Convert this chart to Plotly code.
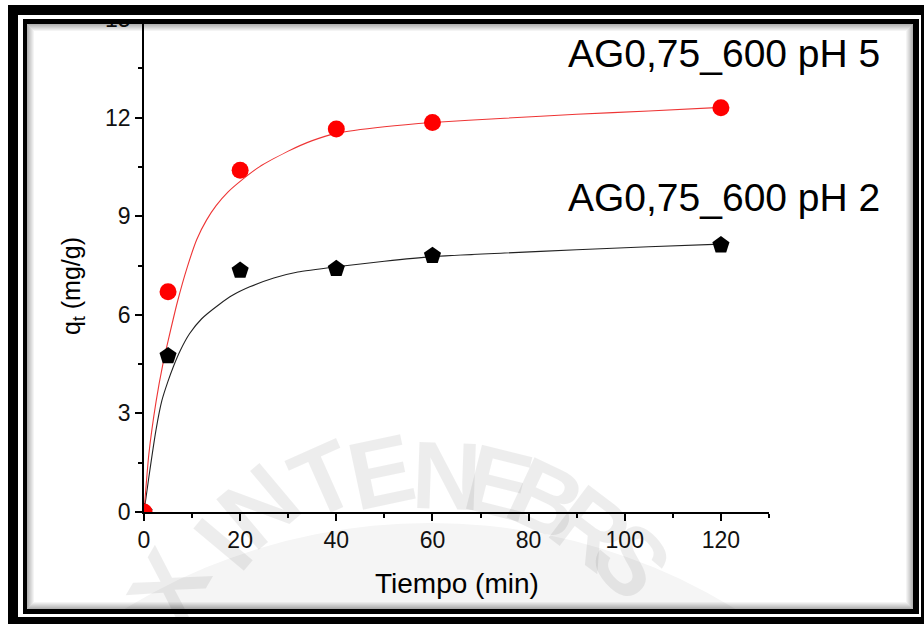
import plotly.graph_objects as go

# ---------------- data ----------------
t_exp = [0, 5, 20, 40, 60, 120]
q_ph5 = [0, 6.7, 10.4, 11.65, 11.85, 12.3]
q_ph2 = [0, 4.75, 7.35, 7.4, 7.8, 8.12]

t_fit5 = [0, 1, 2.5, 4, 5, 7, 9, 11, 13, 15, 17.5, 20, 24, 30, 35, 40, 50, 60, 75, 90, 105, 120]
q_fit5 = [0, 1.75, 3.35, 4.55, 5.2, 6.42, 7.45, 8.3, 8.88, 9.32, 9.74, 10.06, 10.5, 10.98, 11.3, 11.52, 11.72, 11.85, 11.98, 12.1, 12.2, 12.31]

t_fit2 = [0, 1, 2.5, 3.7, 5, 6.1, 7.5, 9.5, 12, 15.5, 18.5, 22, 27, 32, 40, 50, 60, 75, 90, 105, 120]
q_fit2 = [0, 1.05, 2.5, 3.38, 3.98, 4.42, 4.9, 5.43, 5.88, 6.3, 6.6, 6.85, 7.12, 7.3, 7.46, 7.63, 7.77, 7.88, 7.98, 8.07, 8.15]

label_ph5 = "AG0,75_600 pH 5"
label_ph2 = "AG0,75_600 pH 2"
x_title = "Tiempo (min)"
y_title = "q<sub>t</sub> (mg/g)"

x_ticks = [0, 20, 40, 60, 80, 100, 120]
y_ticks = [0, 3, 6, 9, 12, 15]

watermark_letters = ["X", "I", "N", "T", "E", "N", "E", "B", "R", "S"]

# ---------------- layout geometry ----------------
W, H = 924, 624
ML, MR, MT, MB = 144, 155, 19, 112
PW, PH = W - ML - MR, H - MT - MB
FONT = "Liberation Sans, Arial, sans-serif"


def px(x):
    return (x - ML) / PW


def py(y):
    return (H - MB - y) / PH


fig = go.Figure()

fig.add_trace(go.Scatter(x=t_fit2, y=q_fit2, mode="lines", line=dict(color="#222222", width=1.1, shape="spline", smoothing=0.5), showlegend=False, hoverinfo="skip"))
fig.add_trace(go.Scatter(x=t_fit5, y=q_fit5, mode="lines", line=dict(color="#ee3535", width=1.1, shape="spline", smoothing=0.5), showlegend=False, hoverinfo="skip"))
fig.add_trace(go.Scatter(x=t_exp, y=q_ph2, mode="markers", marker=dict(symbol="pentagon", size=18, color="black", line=dict(width=0)), name=label_ph2, showlegend=False))
fig.add_trace(go.Scatter(x=t_exp, y=q_ph5, mode="markers", marker=dict(symbol="circle", size=17, color="#ff0000", line=dict(width=0)), name=label_ph5, showlegend=False))

shapes = []

# watermark disc
shapes.append(dict(type="circle", xref="paper", yref="paper", layer="below",
                   x0=px(430 - 586), x1=px(430 + 586), y0=py(1109 + 586), y1=py(1109 - 586),
                   fillcolor="#f5f5f5", line=dict(width=0)))


def band(x0, y0, x1, y1, color):
    shapes.append(dict(type="rect", xref="paper", yref="paper", layer="above",
                       x0=px(x0), x1=px(x1), y0=py(y1), y1=py(y0),
                       fillcolor=color, line=dict(width=0)))


# inner shadow
for i in range(7):
    a = 0.30 * (1 - i / 7)
    shapes.append(dict(type="rect", xref="paper", yref="paper", layer="above",
                       x0=px(27 + i + 0.5), x1=px(913 - i - 0.5), y0=py(609 - i - 0.5), y1=py(24 + i + 0.5),
                       fillcolor="rgba(0,0,0,0)", line=dict(width=1, color=f"rgba(0,0,0,{a:.3f})")))

# outer black frame
band(8, 5, 924, 15, "black")
band(8, 5, 18, 624, "black")
band(921, 5, 924, 624, "black")
band(8, 617, 924, 624, "black")
# white gap
band(18, 15, 921, 19, "white")
band(18, 15, 23, 617, "white")
band(919, 15, 921, 617, "white")
band(18, 614, 921, 617, "white")
# inner black line
band(23, 19, 919, 24, "black")
band(23, 19, 27, 614, "black")
band(913, 19, 919, 614, "black")
band(23, 609, 919, 614, "black")

annotations = []

# watermark letters (center px x, px y, angle) - translucent so axis lines stay dark
wm_pos = [(168, 586, -60), (222, 544, -50), (258, 506, -40), (323, 479, -24), (381, 471, -12),
          (446, 475, 2), (499, 482, 14), (546, 498, 25), (591, 527, 37), (632, 560, 48)]
for letter, (cx, cy, ang) in zip(watermark_letters, wm_pos):
    annotations.append(dict(text=letter, xref="paper", yref="paper", x=px(cx), y=py(cy),
                            xanchor="center", yanchor="middle", textangle=ang, showarrow=False,
                            font=dict(size=96, color="rgba(0,0,0,0.07)", weight="bold",
                                      family="Liberation Sans Narrow, Liberation Sans, sans-serif")))

annotations += [
    dict(text=label_ph5, xref="paper", yref="paper", x=px(882), y=py(54), xanchor="right", yanchor="middle",
         showarrow=False, font=dict(size=39, color="black", family=FONT)),
    dict(text=label_ph2, xref="paper", yref="paper", x=px(882), y=py(197), xanchor="right", yanchor="middle",
         showarrow=False, font=dict(size=39, color="black", family=FONT)),
    dict(text=x_title, xref="paper", yref="paper", x=px(457), y=py(583), xanchor="center", yanchor="middle",
         showarrow=False, font=dict(size=28, color="black", family=FONT)),
    dict(text=y_title, xref="paper", yref="paper", x=px(73), y=py(286), xanchor="center", yanchor="middle",
         textangle=-90, showarrow=False, font=dict(size=25, color="black", family=FONT)),
]

axis_common = dict(showline=True, linecolor="black", linewidth=1.6, ticks="outside", ticklen=7, tickwidth=1.6,
                   tickcolor="black", showgrid=False, zeroline=False,
                   tickfont=dict(size=23, color="#111111", family=FONT))

fig.update_layout(
    width=W, height=H,
    margin=dict(l=ML, r=MR, t=MT, b=MB, autoexpand=False),
    paper_bgcolor="white", plot_bgcolor="rgba(0,0,0,0)",
    xaxis=dict(range=[0, 130], tickvals=x_ticks, ticktext=[str(v) for v in x_ticks],
               minor=dict(ticks="outside", ticklen=4, tickwidth=1.6, tickcolor="black", dtick=10, tick0=0),
               **axis_common),
    yaxis=dict(range=[0, 15], tickvals=y_ticks, ticktext=[str(v) for v in y_ticks],
               minor=dict(ticks="outside", ticklen=4, tickwidth=1.6, tickcolor="black", dtick=1.5, tick0=0),
               **axis_common),
    shapes=shapes,
    annotations=annotations,
    showlegend=False,
)

fig.write_html("out.html")
